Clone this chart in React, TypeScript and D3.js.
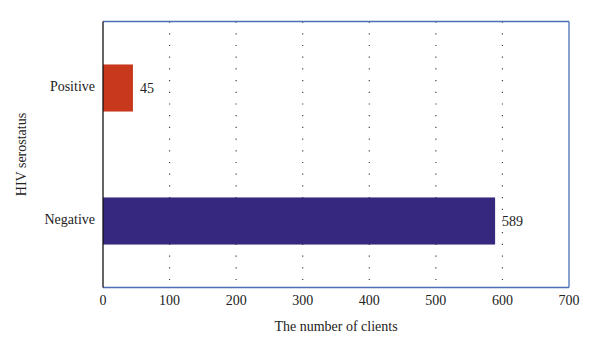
import React from "react";
import * as d3 from "d3";

const categories = ["Positive", "Negative"];
const values = [45, 589];
const colors = ["#c8381c", "#35287e"];
const xTicks = [0, 100, 200, 300, 400, 500, 600, 700];

export default function App() {
  const W = 600, H = 355;
  const left = 103, right = 569, top = 21.5, bottom = 287.5;
  const x = d3.scaleLinear().domain([0, 700]).range([left, right]);
  const y = d3.scaleBand().domain(categories).range([top, bottom]).paddingInner(0.646).paddingOuter(0.323);
  const font = "'Liberation Serif', 'DejaVu Serif', serif";
  return (
    <svg width={W} height={H} style={{ position: "absolute", left: 0, top: 0, background: "#fff" }} fontFamily={font}>
      {xTicks.filter(t => t > 0 && t < 700).map(t => (
        <line key={t} x1={x(t)} x2={x(t)} y1={top} y2={bottom} stroke="#444" strokeWidth={1.2} strokeDasharray="1.2,10.5" />
      ))}
      {categories.map((c, i) => (
        <g key={c}>
          <rect x={x(0)} y={y(c)!} width={x(values[i]) - x(0)} height={y.bandwidth()} fill={colors[i]} />
          <text x={x(values[i]) + 7} y={y(c)! + y.bandwidth() / 2} dy="0.35em" fontSize={14} fill="#222">{values[i]}</text>
          <text x={95} y={y(c)! + y.bandwidth() / 2} dy="0.2em" fontSize={14} fill="#222" textAnchor="end">{c}</text>
        </g>
      ))}
      <line x1={left} x2={right} y1={top} y2={top} stroke="#4a6fb5" strokeWidth={1.3} />
      <line x1={right} x2={right} y1={top} y2={bottom} stroke="#4a6fb5" strokeWidth={1.3} />
      <line x1={left} x2={right} y1={bottom} y2={bottom} stroke="#4a6fb5" strokeWidth={1.3} />
      <line x1={left} x2={left} y1={top} y2={bottom} stroke="#111" strokeWidth={1.3} />
      {xTicks.map(t => (
        <text key={t} x={x(t)} y={305} fontSize={14} fill="#222" textAnchor="middle">{t}</text>
      ))}
      <text x={(left + right) / 2} y={331} fontSize={14} fill="#222" textAnchor="middle">The number of clients</text>
      <text transform={`translate(26, ${(top + bottom) / 2}) rotate(-90)`} fontSize={14} fill="#222" textAnchor="middle">HIV serostatus</text>
    </svg>
  );
}
